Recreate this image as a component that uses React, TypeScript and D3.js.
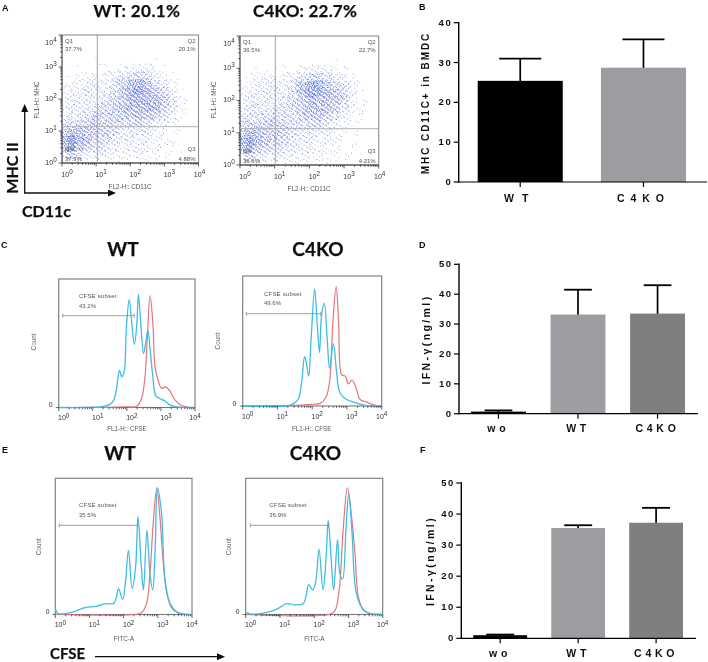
import React from "react";
import * as d3 from "d3";

// ---------- density of the dot plots (dots per quarter-decade cell)
// rows run from log10(y) 3.0-3.25 at top to 0-0.25 at bottom; columns from log10(x)=0 in 0.25 steps
const densityWT = [
  [0,0,0,1,0,0,0,0,0,0,1,0,0,0,0,0],
  [0,0,1,1,2,2,3,6,8,9,6,2,0,0,0,0],
  [1,4,5,4,4,5,10,14,16,15,10,6,2,0,0,0],
  [4,6,7,6,5,6,13,20,30,28,18,12,5,1,0,0],
  [6,7,8,7,6,8,16,21,25,25,21,18,10,3,0,0],
  [8,6,7,8,8,12,16,19,23,25,25,21,13,5,1,0],
  [8,6,8,10,13,13,16,18,21,22,22,16,10,3,0,0],
  [10,8,12,15,16,13,13,15,16,16,12,8,4,1,0,0],
  [16,14,16,16,16,13,10,10,10,9,6,4,2,1,0,0],
  [30,24,19,16,15,12,8,7,7,7,5,3,2,1,0,0],
  [42,30,19,15,12,9,7,5,6,6,4,3,2,0,0,0],
  [22,16,12,8,8,6,5,4,5,5,3,2,1,0,0,0],
  [4,3,2,3,3,3,2,2,3,3,2,1,1,1,0,0],
];
const densityKO = [
  [0,0,0,0,0,0,0,0,0,0,1,0,0,0,0,0],
  [0,1,2,2,2,2,4,8,9,8,5,3,1,0,0,0],
  [2,5,6,5,4,6,11,17,19,16,11,8,5,1,0,0],
  [5,7,8,6,5,7,14,28,34,27,19,14,8,1,0,0],
  [6,8,8,7,6,9,14,21,22,21,21,18,8,2,0,0],
  [8,8,8,8,8,12,13,18,19,21,16,13,7,2,1,0],
  [10,8,10,12,12,12,13,16,22,19,15,9,4,1,1,0],
  [14,10,13,15,13,12,12,13,15,13,8,5,2,1,0,0],
  [20,16,18,16,15,13,10,10,9,8,4,3,1,0,0,0],
  [34,24,19,16,15,12,8,7,7,6,3,2,1,1,0,0],
  [38,25,19,15,12,10,7,6,6,5,3,2,1,0,0,0],
  [18,13,11,9,8,7,5,5,5,4,3,2,1,0,0,0],
  [4,3,3,3,3,3,3,2,3,2,2,1,1,1,0,0],
];

// ---------- histograms: [log10(intensity), % of the frame height]
const cWtCyan = [[0,0],[1.31,0.8],[1.51,2.6],[1.62,6],[1.7,15],[1.78,29],[1.85,24],[1.92,28],[1.99,64],[2.07,84],[2.14,67],[2.22,49],[2.29,64],[2.34,88],[2.4,69],[2.49,42],[2.55,50],[2.62,60],[2.68,46],[2.76,25],[2.85,9],[2.97,7],[3.12,5],[3.26,2],[3.46,0.5],[4,0]];
const cWtRed = [[0,0],[2,0.5],[2.29,1],[2.43,7],[2.53,23],[2.6,54],[2.68,87],[2.76,67],[2.83,31],[2.92,21],[3.02,15],[3.14,16],[3.26,13],[3.41,6],[3.61,1.5],[3.85,0],[4,0]];
const cKoCyan = [[0,0],[1.31,0.3],[1.48,2],[1.61,6],[1.7,19],[1.78,38],[1.84,32],[1.9,23],[1.97,52],[2.07,90],[2.14,65],[2.21,41],[2.27,70],[2.35,79],[2.43,52],[2.5,29],[2.61,48],[2.71,24],[2.8,10],[2.99,5],[3.19,3],[3.43,1],[3.67,0],[4,0]];
const cKoRed = [[0,0],[1.55,0.5],[1.94,1.3],[2.23,2],[2.4,7],[2.51,21],[2.59,62],[2.69,92],[2.76,65],[2.85,24],[2.95,23],[3.04,17],[3.15,20],[3.26,14],[3.38,5],[3.57,3],[3.81,0.5],[4,0]];
const eWtCyan = [[0,5],[0.06,1],[0.23,0.5],[0.53,2],[0.87,5],[1.21,6],[1.48,8],[1.7,8],[1.78,12],[1.85,19],[1.97,11],[2.05,23],[2.14,47],[2.25,19],[2.35,35],[2.42,72],[2.51,38],[2.58,18],[2.68,62],[2.77,30],[2.85,18],[2.92,47],[2.99,93],[3.11,74],[3.21,25],[3.36,8],[3.55,2],[3.75,0.2],[4,0]];
const eWtRed = [[0,0],[2.38,0.2],[2.53,1.5],[2.67,8],[2.77,30],[2.87,69],[2.97,93],[3.06,72],[3.16,38],[3.26,16],[3.4,5],[3.6,1],[4,0]];
const eKoCyan = [[0,1.5],[0.13,0.5],[0.52,1],[0.91,4],[1.2,8],[1.44,7],[1.68,8],[1.76,13],[1.84,22],[1.96,18],[2.05,25],[2.14,48],[2.26,18],[2.35,43],[2.41,69],[2.49,43],[2.57,18],[2.68,55],[2.75,30],[2.83,26],[2.93,64],[3.01,89],[3.1,62],[3.22,17],[3.39,5],[3.58,1],[3.82,0.2],[4,0]];
const eKoRed = [[0,0],[2.46,0.2],[2.61,3],[2.73,18],[2.85,64],[2.97,93],[3.09,72],[3.19,45],[3.29,13],[3.44,3],[3.63,0.7],[4,0]];

// ---------- bar charts
const catsB = ["WT", "C4KO"];
const meanB = [25.4, 28.7];
const topB = [31, 35.8];
const colorsB = ["#000000", "#9d9da1"];
const catsD = ["wo", "WT", "C4KO"];
const meanD = [0.7, 33.2, 33.5];
const topD = [1.1, 41.5, 43];
const meanF = [1, 35.5, 37.2];
const topF = [1.2, 36.4, 42];
const colorsDF = ["#000000", "#9d9da1", "#7f7f7f"];
const ticksB = [0, 10, 20, 30, 40];
const ticksDF = [0, 10, 20, 30, 40, 50];
const decades = [0, 1, 2, 3, 4];

const SANS = "'Liberation Sans', Arial, sans-serif";
const TITLE = "Lato, 'Noto Sans', sans-serif";
const GRAY = "#555";
const DOTS_PER_COUNT = 1.6;

function Exp({ x, y, e, size = 7 }: any) {
  return (
    <text x={x} y={y} fontFamily={SANS} fontSize={size} fill="#333" textAnchor="middle" dominantBaseline="middle">
      10<tspan dy={-3} fontSize={size * 0.9}>{e}</tspan>
    </text>
  );
}

function minorTicks() {
  const out: number[] = [];
  for (let d = 0; d < 4; d++) for (let m = 2; m < 10; m++) out.push(m * 10 ** d);
  return out;
}

function XAxisLog({ x, y0 }: any) {
  return (
    <g stroke="#222" strokeWidth={0.7}>
      {decades.map((d) => <line key={d} x1={x(10 ** d)} x2={x(10 ** d)} y1={y0} y2={y0 + 3.5} />)}
      {minorTicks().map((v) => <line key={v} x1={x(v)} x2={x(v)} y1={y0} y2={y0 + 1.8} />)}
    </g>
  );
}

function Dots({ x, y, grid }: any) {
  const tones: string[][] = [[], [], []];
  const g1 = 0.7548776662;
  const g2 = 0.5698402909;
  grid.forEach((row: number[], r: number) => {
    const yTop = 3.25 - r * 0.25;
    row.forEach((n, c) => {
      const shown = Math.round(n * DOTS_PER_COUNT);
      for (let i = 0; i < shown; i++) {
        const s = i + 1 + r * 17 + c * 31;
        const u = ((s * g1) % 1) * 0.5 - 0.125;
        const v = ((s * g2) % 1) * 0.5 - 0.125;
        const px = x(10 ** Math.max(0, c * 0.25 + u));
        const py = y(10 ** Math.max(0, yTop - v));
        const tone = n >= 26 ? 2 : n >= 13 ? 1 : 0;
        tones[tone].push(`M${px.toFixed(1)} ${py.toFixed(1)}h.9v.9h-.9z`);
      }
    });
  });
  return (
    <g>
      <path d={tones[0].join("")} fill="#7483e0" opacity={0.8} />
      <path d={tones[1].join("")} fill="#4f62d6" opacity={0.8} />
      <path d={tones[2].join("")} fill="#3558c8" opacity={0.9} />
    </g>
  );
}

function DotPlot({ L, R, T, B, vx, hy, grid, q, xl, yl, xLab, yLabX }: any) {
  const x = d3.scaleLog().domain([1, 1e4]).range([L, R]);
  const y = d3.scaleLog().domain([1, 1e4]).range([B, T]);
  const minorY = minorTicks();
  return (
    <g>
      <Dots x={x} y={y} grid={grid} />
      <rect x={L} y={T} width={R - L} height={B - T} fill="none" stroke="#8c8c8c" strokeWidth={1.1} />
      <line x1={L} x2={R} y1={B} y2={B} stroke="#333" strokeWidth={0.9} />
      <line x1={L} x2={L} y1={T} y2={B} stroke="#555" strokeWidth={0.9} />
      <line x1={vx} x2={vx} y1={T} y2={B} stroke="#999" strokeWidth={0.9} />
      <line x1={L} x2={R} y1={hy} y2={hy} stroke="#aaa" strokeWidth={0.9} />
      <XAxisLog x={x} y0={B} />
      <g stroke="#222" strokeWidth={0.7}>
        {decades.map((d) => <line key={d} x1={L - 3.5} x2={L} y1={y(10 ** d)} y2={y(10 ** d)} />)}
        {minorY.map((v) => <line key={v} x1={L - 1.8} x2={L} y1={y(v)} y2={y(v)} />)}
      </g>
      {decades.map((d) => <Exp key={d} x={x(10 ** d) + (d === 4 ? 1 : 5)} y={B + 12} e={d} />)}
      {decades.map((d) => <Exp key={d} x={L - 11} y={y(10 ** d) + (d === 4 ? 8 : 0)} e={d} />)}
      <g fontFamily={SANS} fontSize={6} fill={GRAY}>
        <text x={L + 3} y={T + 6.5} dominantBaseline="middle">Q1</text>
        <text x={L + 3} y={T + 14.5} dominantBaseline="middle">{q[0]}</text>
        <text x={R - 3} y={T + 6.5} dominantBaseline="middle" textAnchor="end">Q2</text>
        <text x={R - 3} y={T + 14.5} dominantBaseline="middle" textAnchor="end">{q[1]}</text>
        <text x={L + 3} y={B - 14} dominantBaseline="middle">Q4</text>
        <text x={L + 3} y={B - 4} dominantBaseline="middle">{q[3]}</text>
        <text x={R - 3} y={B - 14} dominantBaseline="middle" textAnchor="end">Q3</text>
        <text x={R - 3} y={B - 4} dominantBaseline="middle" textAnchor="end">{q[2]}</text>
      </g>
      <text x={xLab} y={xl} fontFamily={SANS} fontSize={6.3} fill={GRAY} textAnchor="middle" dominantBaseline="middle">FL2-H:: CD11C</text>
      <text transform={`translate(${yLabX},${yl}) rotate(-90)`} fontFamily={SANS} fontSize={6.3} fill={GRAY} textAnchor="middle" dominantBaseline="middle">FL1-H:: MHC</text>
    </g>
  );
}

function Hist({ L, R, T, B, cyan, red, gate, gateText, pct, xLabel, xLabelX, xLabelY, countX, countY, zeroX }: any) {
  const x = d3.scaleLog().domain([1, 1e4]).range([L, R]);
  const y = d3.scaleLinear().domain([0, 100]).range([B, T]);
  const line = d3.line<number[]>().x((d) => x(10 ** d[0])).y((d) => y(d[1])).curve(d3.curveCatmullRom.alpha(0.5));
  return (
    <g>
      <rect x={L} y={T} width={R - L} height={B - T} fill="none" stroke="#777" strokeWidth={1.1} />
      <path d={line(red) || ""} fill="none" stroke="#e8737a" strokeWidth={1.2} />
      <path d={line(cyan) || ""} fill="none" stroke="#3dbfe2" strokeWidth={1.3} />
      <XAxisLog x={x} y0={B} />
      {decades.map((d) => <Exp key={d} x={x(10 ** d) + (d === 4 ? 0 : 5)} y={B + 11} e={d} />)}
      <text x={zeroX} y={B - 2} fontFamily={SANS} fontSize={6.8} fill="#333" textAnchor="middle" dominantBaseline="middle">0</text>
      <line x1={L - 3} x2={L} y1={B} y2={B} stroke="#333" strokeWidth={0.7} />
      <g fontFamily={SANS} fontSize={6} fill={GRAY}>
        <text x={gateText[0]} y={gateText[1]} dominantBaseline="middle" letterSpacing={0.2}>CFSE subset</text>
        <text x={gateText[0]} y={gateText[1] + 9.3} dominantBaseline="middle">{pct}</text>
      </g>
      <g stroke="#888" strokeWidth={0.8}>
        <line x1={gate[0]} x2={gate[1]} y1={gate[2]} y2={gate[2]} />
        <line x1={gate[0]} x2={gate[0]} y1={gate[2] - 2} y2={gate[2] + 2} />
        <line x1={gate[1]} x2={gate[1]} y1={gate[2] - 2} y2={gate[2] + 2} />
      </g>
      <text x={xLabelX} y={xLabelY} fontFamily={SANS} fontSize={6.3} fill={GRAY} textAnchor="middle" dominantBaseline="middle">{xLabel}</text>
      <text transform={`translate(${countX},${countY}) rotate(-90)`} fontFamily={SANS} fontSize={6.3} fill={GRAY} textAnchor="middle" dominantBaseline="middle">Count</text>
    </g>
  );
}

function Bars({ cats, mean, top, colors, ticks, domain, axisX, y0, yTop, xEnd, r0, r1, capW, yLabel, yLabelX, yLabelY, yLabelSize, yLabelLs, catY, catLs }: any) {
  const x = d3.scaleBand<string>().domain(cats).range([r0, r1]).paddingInner(0.31).paddingOuter(0);
  const y = d3.scaleLinear().domain([0, domain]).range([y0, yTop]);
  const bw = x.bandwidth();
  return (
    <g>
      {cats.map((c: string, i: number) => {
        const cx = (x(c) as number) + bw / 2;
        return (
          <g key={c}>
            <line x1={cx} x2={cx} y1={y(top[i])} y2={y(mean[i]) + 1} stroke="#000" strokeWidth={1.7} />
            <line x1={cx - capW / 2} x2={cx + capW / 2} y1={y(top[i])} y2={y(top[i])} stroke="#000" strokeWidth={1.8} />
            <rect x={x(c)} y={y(mean[i])} width={bw} height={y0 - y(mean[i])} fill={colors[i]} />
            <line x1={cx} x2={cx} y1={y0} y2={y0 + 5} stroke="#000" strokeWidth={1.2} />
            <text x={cx} y={catY} fontFamily={SANS} fontWeight="bold" fontSize={10.5} letterSpacing={catLs[i]} fill="#111" textAnchor="middle" dominantBaseline="middle">{c}</text>
          </g>
        );
      })}
      <line x1={axisX} x2={axisX} y1={yTop - 0.7} y2={y0 + 0.7} stroke="#000" strokeWidth={1.4} />
      <line x1={axisX} x2={xEnd} y1={y0} y2={y0} stroke="#000" strokeWidth={1.2} />
      {ticks.map((t: number) => (
        <g key={t}>
          <line x1={axisX - 5} x2={axisX} y1={y(t)} y2={y(t)} stroke="#000" strokeWidth={1.2} />
          <text x={axisX - 6.5} y={y(t) + 0.5} fontFamily={SANS} fontWeight="bold" fontSize={9.5} letterSpacing={1.5} fill="#111" textAnchor="end" dominantBaseline="middle">{t}</text>
        </g>
      ))}
      <text transform={`translate(${yLabelX},${yLabelY}) rotate(-90)`} fontFamily={SANS} fontWeight="bold" fontSize={yLabelSize} letterSpacing={yLabelLs} fill="#111" textAnchor="middle" dominantBaseline="middle">{yLabel}</text>
    </g>
  );
}

function Title({ x, y, t, size = 18, ls = 0 }: any) {
  return <text x={x} y={y} fontFamily={TITLE} fontWeight="bold" fontSize={size} letterSpacing={ls} fill="#111" stroke="#111" strokeWidth={0.25} textAnchor="middle">{t}</text>;
}
function Letter({ x, y, t }: any) {
  return <text x={x} y={y} fontFamily={SANS} fontWeight="bold" fontSize={9} fill="#111">{t}</text>;
}

export default function App() {
  return (
    <svg width={708} height={662} viewBox="0 0 708 662" style={{ position: "absolute", left: 0, top: 0, background: "#fff" }}>
      <defs>
        <marker id="ah" markerWidth={8} markerHeight={8} refX={6} refY={3.5} orient="auto" markerUnits="userSpaceOnUse">
          <path d="M0 0L8 3.5L0 7z" fill="#111" />
        </marker>
        <filter id="soft" x="0" y="0" width="100%" height="100%">
          <feGaussianBlur stdDeviation={0.3} />
        </filter>
      </defs>
      <g filter="url(#soft)">
      {[["A", 2, 11], ["B", 419, 10], ["C", 1, 248], ["D", 419, 248], ["E", 2, 453], ["F", 420, 453]].map(([t, x, y]: any) => (
        <Letter key={t} x={x} y={y} t={t} />
      ))}

      <Title x={137} y={16.5} t="WT: 20.1%" size={17} ls={0.4} />
      <Title x={305} y={16.5} t="C4KO: 22.7%" size={17} ls={0.2} />
      <Title x={123} y={256} t="WT" size={19} />
      <Title x={318} y={256} t="C4KO" size={19} />
      <Title x={120} y={460} t="WT" size={19} />
      <Title x={315.5} y={460} t="C4KO" size={19} />

      <DotPlot L={62} R={198.5} T={35} B={163} vx={97.3} hy={126.7} grid={densityWT} q={["37.7%", "20.1%", "4.88%", "37.3%"]} xLab={130} xl={187} yl={100} yLabX={37.7} />
      <DotPlot L={240} R={378.7} T={36} B={165} vx={275.3} hy={128.7} grid={densityKO} q={["36.5%", "22.7%", "4.21%", "36.6%"]} xLab={309} xl={189} yl={100} yLabX={214} />

      {/* axis arrows of panel A */}
      <line x1={24.7} x2={24.7} y1={193} y2={106} stroke="#111" strokeWidth={1.3} markerEnd="url(#ah)" />
      <line x1={24} x2={114} y1={193} y2={193} stroke="#111" strokeWidth={1.3} markerEnd="url(#ah)" />
      <text transform="translate(14,168) rotate(-90)" fontFamily={TITLE} fontWeight="bold" fontSize={16} fill="#111" stroke="#111" strokeWidth={0.25} textAnchor="middle" dominantBaseline="middle">MHC II</text>
      <text x={22} y={217} fontFamily={TITLE} fontWeight="bold" fontSize={16} fill="#111" stroke="#111" strokeWidth={0.25}>CD11c</text>

      <Hist L={58.7} R={195} T={279} B={407.5} cyan={cWtCyan} red={cWtRed} gate={[62.7, 134.3, 315.7]} gateText={[79, 296.7]} pct="43.2%" xLabel="FL1-H:: CFSE" xLabelX={127} xLabelY={429} countX={34} countY={342} zeroX={50.7} />
      <Hist L={242.7} R={381.7} T={276} B={406} cyan={cKoCyan} red={cKoRed} gate={[246.3, 320.7, 313.7]} gateText={[264, 294.3]} pct="49.6%" xLabel="FL1-H:: CFSE" xLabelX={311.7} xLabelY={429} countX={218} countY={341} zeroX={234.5} />
      <Hist L={55.3} R={192} T={478.3} B={614.5} cyan={eWtCyan} red={eWtRed} gate={[59.3, 137.7, 525.3]} gateText={[79, 505.7]} pct="35.5%" xLabel="FITC-A" xLabelX={124} xLabelY={639} countX={39} countY={546.7} zeroX={47.7} />
      <Hist L={245.7} R={382.7} T={478.3} B={614.5} cyan={eKoCyan} red={eKoRed} gate={[250.3, 328.3, 525.3]} gateText={[269.3, 505.7]} pct="36.9%" xLabel="FITC-A" xLabelX={314.3} xLabelY={639} countX={229.3} countY={546.7} zeroX={237.7} />

      <text x={50} y={658.5} fontFamily={TITLE} fontWeight="bold" fontSize={15} fill="#111" stroke="#111" strokeWidth={0.25}>CFSE</text>
      <line x1={95} x2={223} y1={656.7} y2={656.7} stroke="#111" strokeWidth={1.3} markerEnd="url(#ah)" />

      <Bars cats={catsB} mean={meanB} top={topB} colors={colorsB} ticks={ticksB} domain={40} axisX={458.7} y0={182} yTop={22.7} xEnd={707} r0={477.7} r1={686} capW={42} yLabel="MHC CD11C+ in BMDC" yLabelX={426.5} yLabelY={103} yLabelSize={10} yLabelLs={1.9} catY={199.5} catLs={[8, 5.9]} />
      <Bars cats={catsD} mean={meanD} top={topD} colors={colorsDF} ticks={ticksDF} domain={50} axisX={459} y0={413.7} yTop={264.3} xEnd={698} r0={471} r1={685} capW={27.7} yLabel="IFN-γ(ng/ml)" yLabelX={427} yLabelY={339.5} yLabelSize={10.5} yLabelLs={2.4} catY={429} catLs={[4, 3.7, 3.7]} />
      <Bars cats={catsD} mean={meanF} top={topF} colors={colorsDF} ticks={ticksDF} domain={50} axisX={461.3} y0={638.3} yTop={483} xEnd={696} r0={473.3} r1={683} capW={28} yLabel="IFN-γ(ng/ml)" yLabelX={431} yLabelY={561} yLabelSize={10.5} yLabelLs={2.4} catY={654.5} catLs={[4, 3.7, 3.7]} />
      </g>
    </svg>
  );
}
